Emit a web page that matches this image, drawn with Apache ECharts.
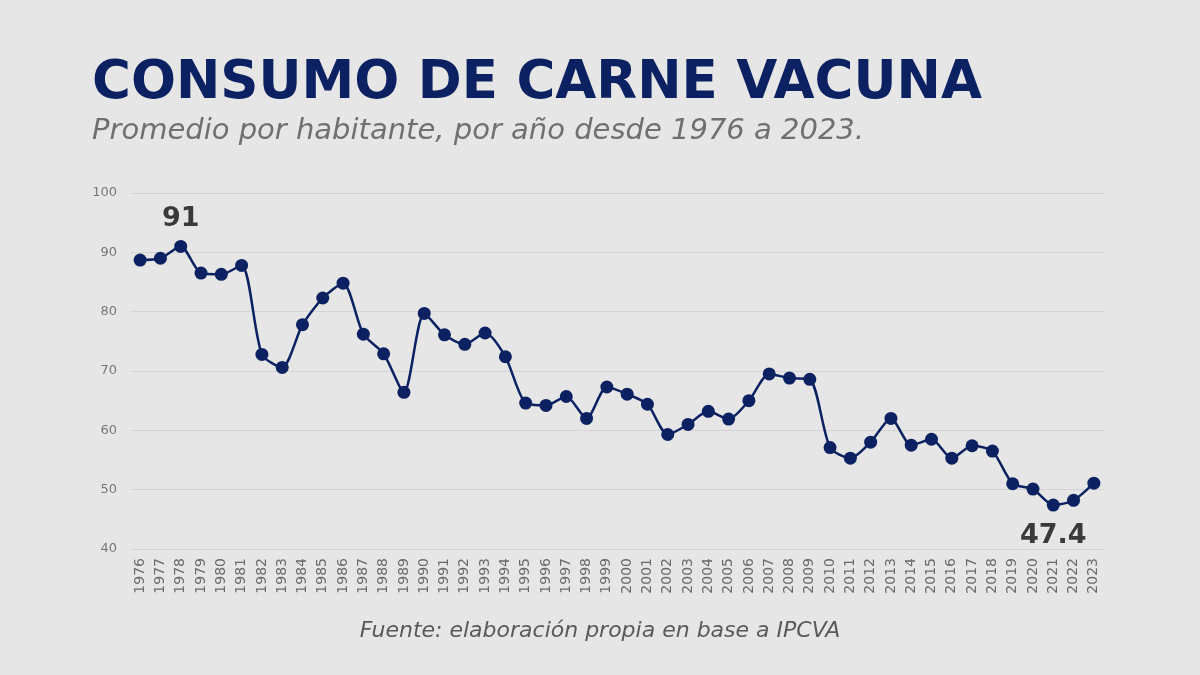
<!DOCTYPE html>
<html>
<head>
<meta charset="utf-8">
<script src="https://cdn.jsdelivr.net/npm/echarts@6/dist/echarts.min.js"></script>
<style>
html,body{margin:0;padding:0;background:#e6e6e6;}
#c{width:1200px;height:675px;}
</style>
</head>
<body>
<div id="c"></div>
<script>
const years = ["1976","1977","1978","1979","1980","1981","1982","1983","1984","1985","1986","1987","1988","1989","1990","1991","1992","1993","1994","1995","1996","1997","1998","1999","2000","2001","2002","2003","2004","2005","2006","2007","2008","2009","2010","2011","2012","2013","2014","2015","2016","2017","2018","2019","2020","2021","2022","2023"];
const consumo = [88.7,89.0,91.0,86.5,86.3,87.8,72.8,70.6,77.8,82.3,84.8,76.2,72.9,66.4,79.7,76.1,74.5,76.4,72.4,64.6,64.2,65.7,62.0,67.3,66.1,64.4,59.3,61.0,63.2,61.9,65.0,69.5,68.8,68.6,57.1,55.3,58.0,62.0,57.5,58.5,55.3,57.4,56.5,51.0,50.1,47.4,48.2,51.1];
const yTicks = [40,50,60,70,80,90,100];
const highlights = {2: {text: "91", pos: "top"}, 45: {text: "47.4", pos: "bottom"}};

const navy = "#0c2161";
const seriesData = consumo.map((v, i) => {
  if (highlights[i]) {
    return {
      value: v,
      label: {
        show: true,
        position: highlights[i].pos,
        distance: highlights[i].pos === "top" ? 7 : 11,
        formatter: highlights[i].text,
        fontFamily: "DejaVu Sans",
        fontWeight: "bold",
        fontSize: 27,
        color: "#3a3a3a"
      }
    };
  }
  return v;
});

const chart = echarts.init(document.getElementById('c'));
chart.setOption({
  backgroundColor: "#e6e6e6",
  animation: false,
  title: [
    {
      text: "CONSUMO DE CARNE VACUNA",
      left: 87, top: 53,
      textStyle: {fontFamily: "DejaVu Sans", fontWeight: "bold", fontSize: 53, color: navy}
    },
    {
      text: "Promedio por habitante, por año desde 1976 a 2023.",
      left: 87, top: 112,
      textStyle: {fontFamily: "DejaVu Sans", fontStyle: "italic", fontWeight: "normal", fontSize: 29, color: "#707070"}
    },
    {
      text: "Fuente: elaboración propia en base a IPCVA",
      left: "center", top: 615,
      textStyle: {fontFamily: "DejaVu Sans", fontStyle: "italic", fontWeight: "normal", fontSize: 22, color: "#5a5a5a"}
    }
  ],
  grid: {left: 130, right: 96, top: 193, bottom: 126, containLabel: false},
  xAxis: {
    type: "category",
    data: years,
    boundaryGap: true,
    axisLine: {show: false},
    axisTick: {show: false},
    axisLabel: {rotate: 90, interval: 0, margin: 9, fontFamily: "DejaVu Sans", fontSize: 14, color: "#6a6a6a"}
  },
  yAxis: {
    type: "value",
    min: yTicks[0], max: yTicks[yTicks.length - 1], interval: 10,
    axisLine: {show: false},
    axisTick: {show: false},
    splitLine: {lineStyle: {color: "#d4d4d4", width: 1}},
    axisLabel: {margin: 13, fontFamily: "DejaVu Sans", fontSize: 13, color: "#777777"}
  },
  series: [{
    type: "line",
    data: seriesData,
    smooth: 0.25,
    symbol: "circle",
    symbolSize: 13,
    lineStyle: {color: navy, width: 2.5},
    itemStyle: {color: navy},
    z: 3
  }]
});
</script>
</body>
</html>
